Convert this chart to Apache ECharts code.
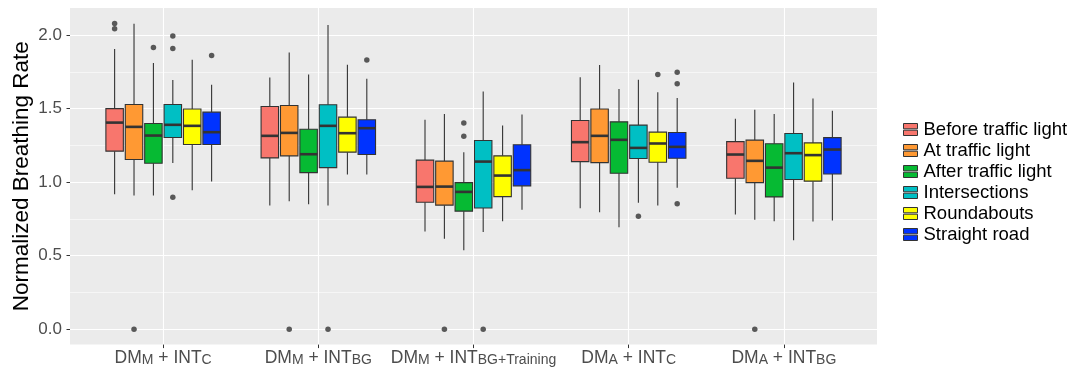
<!DOCTYPE html>
<html>
<head>
<meta charset="utf-8">
<script src="https://cdn.jsdelivr.net/npm/echarts@6/dist/echarts.min.js"></script>
<style>
  html, body { margin: 0; padding: 0; background: #fff; }
  #main { width: 1078px; height: 372px; }
</style>
</head>
<body>
<div id="main"></div>
<script>
// groups on the x axis (rich text for the subscripts)
var categories = [
  '{b|DM}{s|M}{b| + INT}{s|C}',
  '{b|DM}{s|M}{b| + INT}{s|BG}',
  '{b|DM}{s|M}{b| + INT}{s|BG+Training}',
  '{b|DM}{s|A}{b| + INT}{s|C}',
  '{b|DM}{s|A}{b| + INT}{s|BG}'
];
var seriesNames = ['Before traffic light', 'At traffic light', 'After traffic light',
  'Intersections', 'Roundabouts', 'Straight road'];
var colors = ['#F8766D', '#FF9933', '#06BA33', '#00BFC4', '#FFFF00', '#0033FF'];
var yTicks = [0, 0.5, 1, 1.5, 2];
var yMinor = [0.25, 0.75, 1.25, 1.75];

// [lower whisker, q1, median, q3, upper whisker] per group
var beforeLight = [
  [0.918, 1.211, 1.405, 1.500, 1.905],
  [0.841, 1.165, 1.315, 1.514, 1.712],
  [0.664, 0.864, 0.968, 1.150, 1.424],
  [0.823, 1.140, 1.272, 1.419, 1.714],
  [0.780, 1.027, 1.188, 1.276, 1.431]
];
var atLight = [
  [0.909, 1.154, 1.376, 1.528, 2.077],
  [0.871, 1.179, 1.335, 1.521, 1.882],
  [0.616, 0.844, 0.970, 1.143, 1.463],
  [0.796, 1.133, 1.315, 1.497, 1.796],
  [0.744, 0.997, 1.145, 1.286, 1.492]
];
var afterLight = [
  [0.909, 1.129, 1.317, 1.399, 1.810],
  [0.850, 1.065, 1.190, 1.360, 1.732],
  [0.537, 0.803, 0.934, 0.997, 1.204],
  [0.694, 1.061, 1.288, 1.410, 1.633],
  [0.735, 0.900, 1.099, 1.261, 1.463]
];
var intersections = [
  [1.131, 1.304, 1.390, 1.528, 1.694],
  [0.841, 1.099, 1.383, 1.526, 2.068],
  [0.662, 0.825, 1.140, 1.283, 1.616],
  [0.861, 1.161, 1.233, 1.388, 1.696],
  [0.605, 1.018, 1.197, 1.331, 1.678]
];
var roundabouts = [
  [0.946, 1.256, 1.383, 1.497, 1.832],
  [1.052, 1.204, 1.333, 1.442, 1.798],
  [0.735, 0.902, 1.045, 1.179, 1.385],
  [0.841, 1.136, 1.263, 1.340, 1.612],
  [0.732, 1.007, 1.184, 1.267, 1.569]
];
var straightRoad = [
  [1.004, 1.256, 1.340, 1.476, 1.662],
  [1.052, 1.188, 1.367, 1.424, 1.703],
  [0.812, 0.975, 1.082, 1.254, 1.460],
  [0.963, 1.163, 1.240, 1.338, 1.573],
  [0.739, 1.056, 1.222, 1.303, 1.485]
];

// outliers: [group index, value]
var beforeOut = [[0, 2.079], [0, 2.043]];
var atOut = [[0, 0], [1, 0], [2, 0], [4, 0]];
var afterOut = [[0, 1.916], [2, 1.403], [2, 1.313]];
var interOut = [[0, 1.993], [0, 1.909], [0, 0.898], [1, 0], [2, 0], [3, 0.769]];
var roundOut = [[3, 1.732]];
var straightOut = [[0, 1.861], [1, 1.830], [3, 1.748], [3, 1.669], [3, 0.854]];

var boxData = [beforeLight, atLight, afterLight, intersections, roundabouts, straightRoad];
var outData = [beforeOut, atOut, afterOut, interOut, roundOut, straightOut];

var dodge = 0.75 / 6;       // slot of each box inside a group
var halfBox = dodge * 0.9 / 2;

function offsetOf(i) { return (i - 2.5) * dodge; }

var chart = echarts.init(document.getElementById('main'), null, { renderer: 'canvas' });

var series = [];
boxData.forEach(function (rows, si) {
  series.push({
    name: seriesNames[si],
    type: 'custom',
    itemStyle: { color: colors[si], borderColor: '#333333', borderWidth: 1 },
    data: rows.map(function (r, gi) { return [gi + 1].concat(r); }),
    renderItem: function (params, api) {
      var x = api.value(0) + offsetOf(si);
      var lo = api.coord([x, api.value(1)]);
      var q1 = api.coord([x, api.value(2)]);
      var md = api.coord([x, api.value(3)]);
      var q3 = api.coord([x, api.value(4)]);
      var hi = api.coord([x, api.value(5)]);
      var l = api.coord([x - halfBox, 0])[0];
      var r = api.coord([x + halfBox, 0])[0];
      var line = { stroke: '#333333', lineWidth: 1.1 };
      return {
        type: 'group',
        children: [
          { type: 'line', shape: { x1: hi[0], y1: hi[1], x2: q3[0], y2: q3[1] }, style: line },
          { type: 'line', shape: { x1: lo[0], y1: lo[1], x2: q1[0], y2: q1[1] }, style: line },
          { type: 'rect', shape: { x: l, y: q3[1], width: r - l, height: q1[1] - q3[1] },
            style: { fill: colors[si], stroke: '#333333', lineWidth: 1.1 } },
          { type: 'line', shape: { x1: l, y1: md[1], x2: r, y2: md[1] },
            style: { stroke: '#333333', lineWidth: 2.6 } }
        ]
      };
    }
  });
});
outData.forEach(function (pts, si) {
  series.push({
    type: 'scatter',
    symbolSize: 5.5,
    itemStyle: { color: '#333333' },
    silent: true,
    data: pts.map(function (p) { return [p[0] + 1 + offsetOf(si), p[1]]; })
  });
});

chart.setOption({
  animation: false,
  backgroundColor: '#ffffff',
  grid: {
    left: 70, right: 201, top: 8, bottom: 27.4,
    outerBoundsMode: 'none',
    show: true, backgroundColor: '#EBEBEB', borderWidth: 0
  },
  legend: {
    data: seriesNames,
    orient: 'vertical',
    left: 898, top: 114,
    itemGap: 0,
    itemWidth: 14, itemHeight: 12,
    icon: 'path://M0,0 H14 V5.3 H0 Z M0,6.7 H14 V12 H0 Z',
    itemStyle: { borderColor: '#333333', borderWidth: 1 },
    textStyle: { fontFamily: 'Liberation Sans', fontSize: 18.5, color: '#000', lineHeight: 21, padding: [0, 0, 0, 1] },
    selectedMode: false
  },
  xAxis: {
    type: 'value', min: 0.4, max: 5.6,
    axisLine: { show: true, onZero: false, lineStyle: { color: 'rgba(0,0,0,0)' } },
    axisTick: { show: true, length: 3.5, customValues: [1, 2, 3, 4, 5], lineStyle: { color: '#333333' } },
    splitLine: { show: true, lineStyle: { color: '#ffffff', width: 1.1 } },
    axisLabel: {
      customValues: [1, 2, 3, 4, 5],
      margin: 3,
      formatter: function (v) { return categories[Math.round(v) - 1]; },
      rich: {
        b: { fontFamily: 'Liberation Sans', fontSize: 17.5, color: '#4D4D4D', lineHeight: 20, verticalAlign: 'bottom' },
        s: { fontFamily: 'Liberation Sans', fontSize: 14, color: '#4D4D4D', lineHeight: 8, verticalAlign: 'bottom' }
      }
    }
  },
  yAxis: [{
    type: 'value', min: -0.104, max: 2.184,
    name: 'Normalized Breathing Rate',
    nameLocation: 'middle', nameGap: 37, nameMoveOverlap: false,
    nameTextStyle: { fontFamily: 'Liberation Sans', fontSize: 22.5, color: '#000' },
    axisLine: { show: true, onZero: false, lineStyle: { color: 'rgba(0,0,0,0)' } },
    axisTick: { show: true, length: 3.5, customValues: yTicks, lineStyle: { color: '#333333' } },
    splitLine: { show: true, lineStyle: { color: '#ffffff', width: 1.1 } },
    axisLabel: {
      customValues: yTicks, margin: 8,
      formatter: function (v) { return v.toFixed(1); },
      fontFamily: 'Liberation Sans', fontSize: 17, color: '#4D4D4D'
    }
  }, {
    // minor grid lines
    type: 'value', min: -0.104, max: 2.184, position: 'left',
    axisLine: { show: false, onZero: false },
    axisTick: { show: false, customValues: yMinor },
    axisLabel: { show: false, customValues: yMinor },
    splitLine: { show: true, lineStyle: { color: '#ffffff', width: 0.55 } }
  }],
  series: series
});
</script>
</body>
</html>
